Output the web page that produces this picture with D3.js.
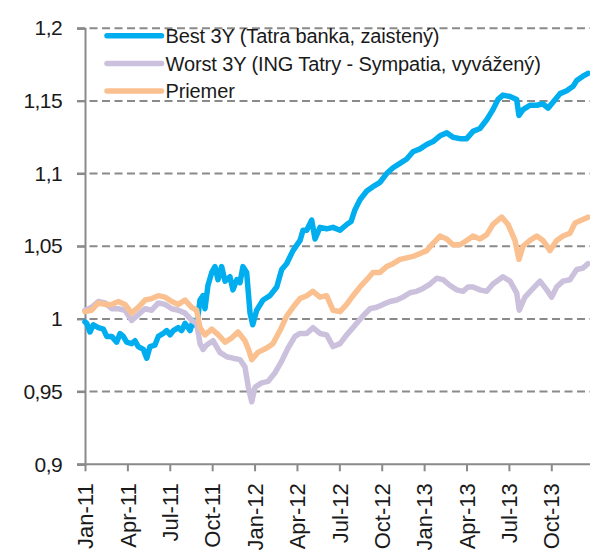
<!DOCTYPE html>
<html><head><meta charset="utf-8">
<script src="https://cdn.jsdelivr.net/npm/d3@7"></script>
<style>
html,body{margin:0;padding:0;background:#fff;}
svg text{font-family:"Liberation Sans",Arial,Helvetica,sans-serif;fill:#1a1a1a;}
</style></head>
<body>
<svg id="chart" width="590" height="552"></svg>
<script>
// x tick labels (quarterly, month index 0 = Jan-11)
const tickLabels = ["Jan-11","Apr-11","Jul-11","Oct-11","Jan-12","Apr-12","Jul-12","Oct-12","Jan-13","Apr-13","Jul-13","Oct-13"];
const yTicks = [0.9,0.95,1,1.05,1.1,1.15,1.2];
const seriesNames = ["Best 3Y (Tatra banka, zaistený)","Worst 3Y (ING Tatry - Sympatia, vyvážený)","Priemer"];
const seriesColors = ["#00aeef","#cbc1dd","#fbc08f"];

// [month index, value]
const best = [[0,0.998],[0.12,0.997],[0.35,0.991],[0.59,0.996],[0.94,0.994],[1.3,0.993],[1.54,0.988],[1.89,0.988],[2.24,0.984],[2.48,0.990],[2.71,0.988],[2.95,0.984],[3.3,0.983],[3.54,0.985],[3.77,0.981],[4.13,0.979],[4.37,0.973],[4.6,0.981],[4.95,0.982],[5.19,0.988],[5.54,0.990],[5.78,0.992],[6.02,0.989],[6.25,0.992],[6.6,0.994],[6.84,0.992],[7.08,0.997],[7.43,0.992],[7.66,0.999],[7.9,0.995],[8.14,1.013],[8.35,1.016],[8.49,1.007],[8.7,1.023],[8.97,1.032],[9.2,1.036],[9.41,1.027],[9.67,1.036],[9.91,1.026],[10.26,1.029],[10.47,1.020],[10.74,1.027],[10.97,1.025],[11.18,1.036],[11.44,1.032],[11.68,1.004],[11.87,0.996],[12.15,1.006],[12.6,1.013],[13.09,1.016],[13.57,1.022],[13.92,1.034],[14.27,1.038],[14.72,1.047],[15.22,1.054],[15.43,1.061],[15.69,1.061],[16.04,1.068],[16.28,1.055],[16.63,1.063],[17.1,1.062],[17.55,1.063],[18.05,1.061],[18.52,1.065],[18.83,1.067],[19.1,1.075],[19.46,1.082],[19.94,1.088],[20.38,1.091],[20.88,1.094],[21.35,1.100],[21.8,1.104],[22.29,1.107],[22.77,1.110],[23.21,1.115],[23.71,1.117],[24.18,1.120],[24.63,1.122],[25.12,1.126],[25.6,1.128],[26.04,1.125],[26.54,1.124],[27.01,1.124],[27.46,1.129],[27.95,1.131],[28.43,1.137],[28.87,1.144],[29.23,1.151],[29.58,1.154],[30.08,1.153],[30.55,1.151],[30.71,1.140],[31.0,1.144],[31.49,1.147],[31.97,1.147],[32.41,1.148],[32.77,1.145],[33.12,1.149],[33.62,1.155],[34.09,1.157],[34.54,1.160],[34.8,1.164],[35.24,1.167],[35.6,1.169]];

const worst = [[0,1.006],[0.47,1.008],[0.94,1.012],[1.42,1.011],[1.89,1.007],[2.36,1.007],[2.83,1.006],[3.3,0.999],[3.77,1.003],[4.25,1.007],[4.72,1.006],[5.19,1.011],[5.66,1.010],[6.14,1.007],[6.6,1.006],[7.08,1.004],[7.55,0.999],[7.9,0.997],[8.14,0.983],[8.35,0.979],[8.61,0.982],[9.06,0.985],[9.55,0.977],[10.03,0.974],[10.47,0.973],[10.97,0.972],[11.32,0.967],[11.56,0.953],[11.8,0.943],[12.03,0.953],[12.5,0.956],[12.95,0.957],[13.45,0.963],[13.92,0.971],[14.37,0.980],[14.86,0.988],[15.22,0.990],[15.69,0.990],[16.13,0.994],[16.63,0.990],[17.1,0.989],[17.55,0.981],[18.05,0.983],[18.52,0.989],[18.97,0.994],[19.23,0.997],[19.67,1.002],[20.17,1.007],[20.64,1.008],[21.09,1.010],[21.58,1.012],[22.06,1.013],[22.5,1.015],[23.0,1.018],[23.47,1.019],[23.92,1.021],[24.42,1.024],[24.89,1.028],[25.34,1.027],[25.83,1.023],[26.31,1.020],[26.75,1.019],[27.1,1.022],[27.46,1.022],[27.95,1.020],[28.43,1.019],[28.87,1.024],[29.58,1.029],[30.08,1.026],[30.55,1.018],[30.73,1.006],[31.14,1.015],[31.61,1.020],[32.2,1.026],[32.68,1.020],[33.03,1.015],[33.38,1.022],[33.83,1.026],[34.32,1.027],[34.8,1.034],[35.24,1.035],[35.6,1.038]];

const avg = [[0,1.005],[0.47,1.006],[0.94,1.011],[1.42,1.010],[1.89,1.010],[2.36,1.012],[2.83,1.010],[3.3,1.004],[3.77,1.008],[4.25,1.013],[4.72,1.014],[5.19,1.016],[5.66,1.015],[6.14,1.012],[6.6,1.010],[7.08,1.013],[7.55,1.008],[7.9,1.006],[8.14,0.994],[8.49,0.989],[8.97,0.993],[9.44,0.989],[9.91,0.984],[10.39,0.987],[10.83,0.991],[11.32,0.985],[11.57,0.979],[11.8,0.972],[12.24,0.977],[12.86,0.980],[13.3,0.983],[13.8,0.992],[14.27,1.002],[14.72,1.008],[15.22,1.014],[15.69,1.016],[16.13,1.019],[16.63,1.015],[17.1,1.016],[17.55,1.006],[18.05,1.005],[18.52,1.010],[18.97,1.016],[19.46,1.022],[19.94,1.027],[20.38,1.032],[20.88,1.032],[21.35,1.036],[21.8,1.038],[22.29,1.041],[22.77,1.042],[23.21,1.043],[23.71,1.045],[24.18,1.047],[24.63,1.052],[25.12,1.057],[25.6,1.055],[26.04,1.051],[26.54,1.051],[27.01,1.054],[27.46,1.057],[27.95,1.055],[28.43,1.058],[28.87,1.065],[29.49,1.070],[29.94,1.065],[30.43,1.054],[30.71,1.041],[31.0,1.050],[31.49,1.054],[31.97,1.057],[32.41,1.054],[32.91,1.047],[33.38,1.054],[33.83,1.057],[34.32,1.059],[34.68,1.066],[35.15,1.068],[35.6,1.070]];

const svg = d3.select("#chart");
const x0 = 85, y0 = 464.3, yTop = 28.2;
const x = d3.scaleLinear().domain([0,36]).range([x0, x0 + 36*14.13]);
const y = d3.scaleLinear().domain([0.9,1.2]).range([y0, yTop]);
const fmt = v => String(+v.toFixed(2)).replace(".", ",");

// gridlines
svg.append("g").selectAll("line").data(yTicks.filter(v => v > 0.9)).join("line")
  .attr("x1", 77).attr("x2", 590)
  .attr("y1", d => y(d)).attr("y2", d => y(d))
  .attr("stroke", "#8a8a8a").attr("stroke-width", 2).attr("stroke-dasharray", "8,4.5");

// y axis
const yAxis = svg.append("g").attr("transform", `translate(${x0},0)`)
  .call(d3.axisLeft(y).tickValues(yTicks).tickFormat(fmt).tickSize(8).tickPadding(15));
yAxis.select(".domain").attr("stroke", "#8a8a8a").attr("stroke-width", 2);
yAxis.selectAll(".tick line").attr("stroke", "#8a8a8a").attr("stroke-width", 2);
yAxis.selectAll(".tick text").attr("font-size", 21).attr("fill", "#1a1a1a")
  .attr("font-family", "Liberation Sans, Arial, sans-serif").style("letter-spacing", "-0.6px");

// x axis
const xTicks = tickLabels.map((_, i) => i * 3);
const xAxis = svg.append("g").attr("transform", `translate(0,${y0})`)
  .call(d3.axisBottom(x).tickValues(xTicks).tickFormat((d, i) => tickLabels[i]).tickSize(7).tickSizeOuter(0));
xAxis.select(".domain").attr("d", `M77,0H590`).attr("stroke", "#8a8a8a").attr("stroke-width", 2);
xAxis.selectAll(".tick line").attr("stroke", "#8a8a8a").attr("stroke-width", 2);
xAxis.selectAll(".tick text").attr("font-size", 22).attr("fill", "#1a1a1a")
  .attr("font-family", "Liberation Sans, Arial, sans-serif")
  .attr("text-anchor", "end").attr("transform", "rotate(-90)")
  .attr("x", -19).attr("y", 0).attr("dy", "0.35em");

// lines
const line = d3.line().x(d => x(d[0])).y(d => y(d[1])).curve(d3.curveLinear);
const all = [best, worst, avg];
svg.append("g").selectAll("path").data(all).join("path")
  .attr("d", line).attr("fill", "none")
  .attr("stroke", (d, i) => seriesColors[i]).attr("stroke-width", 5.5)
  .attr("stroke-linejoin", "round").attr("stroke-linecap", "round");

// legend
const lg = svg.append("g");
seriesNames.forEach((n, i) => {
  const cy = 35.7 + i * 27.7;
  lg.append("line").attr("x1", 107).attr("x2", 161.5).attr("y1", cy).attr("y2", cy)
    .attr("stroke", seriesColors[i]).attr("stroke-width", 5.5).attr("stroke-linecap", "round");
  lg.append("text").attr("x", 165.5).attr("y", cy + 7.2).attr("font-size", 20)
    .style("letter-spacing", "-0.12px").text(n);
});
</script>
</body></html>
